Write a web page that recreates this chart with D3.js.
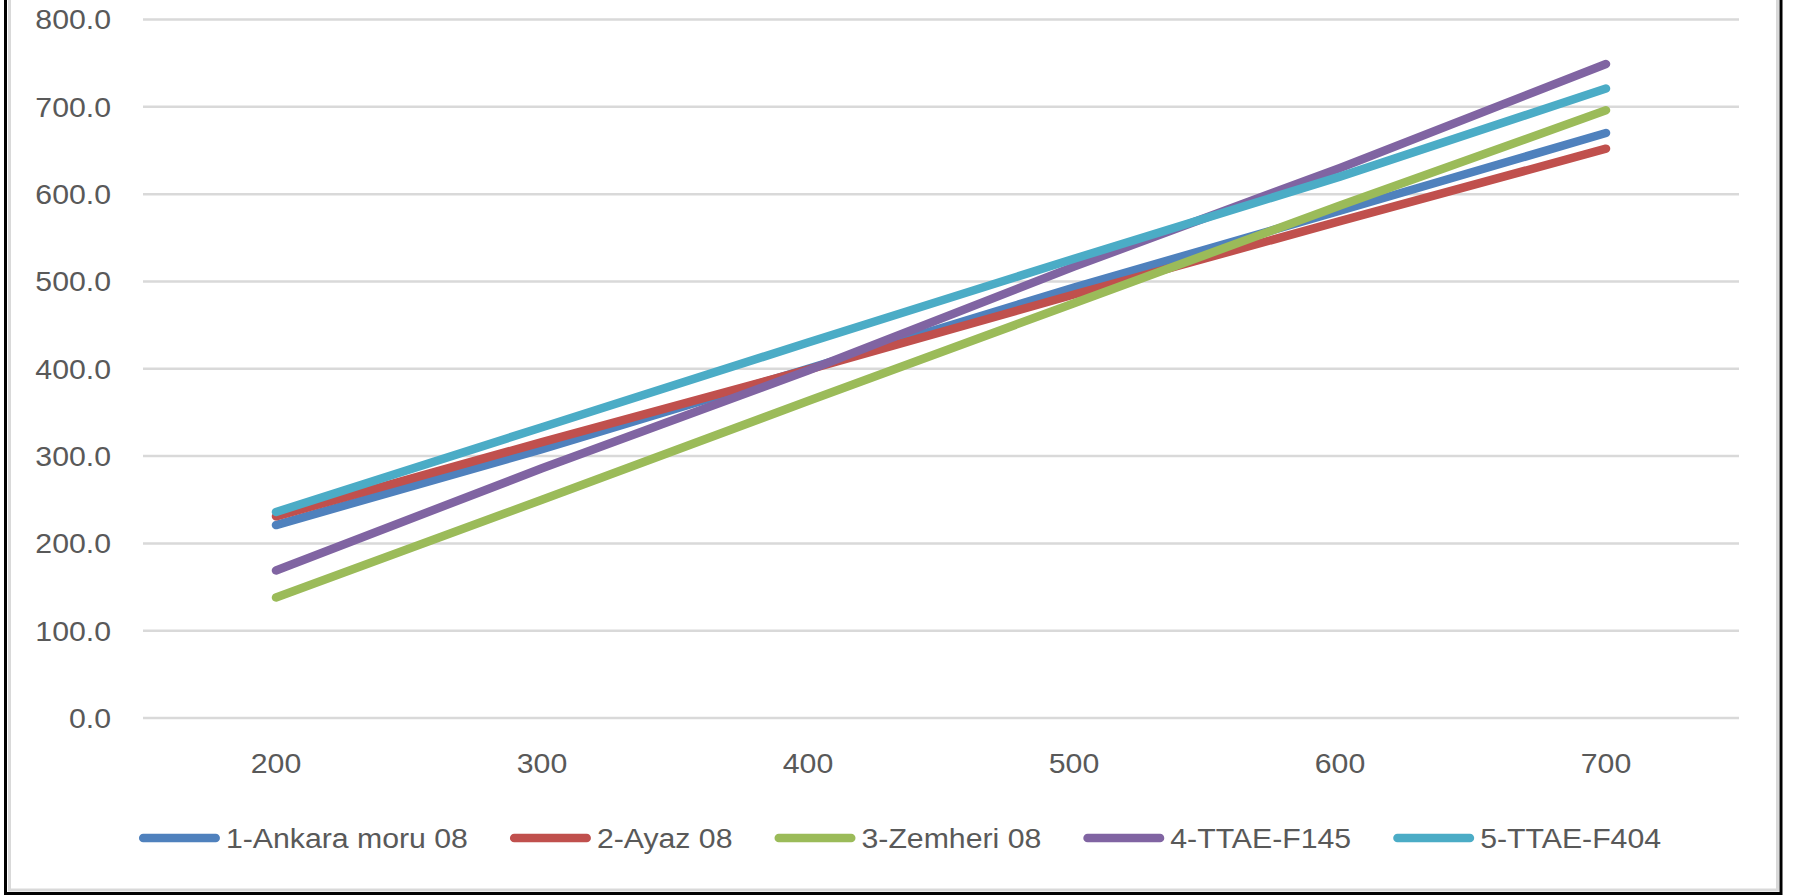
<!DOCTYPE html>
<html>
<head>
<meta charset="utf-8">
<script src="https://cdn.jsdelivr.net/npm/d3@7"></script>
<style>
  html, body { margin: 0; padding: 0; background: #fff; }
  svg { display: block; }
</style>
</head>
<body>
<svg id="chart" width="1796" height="896"></svg>
<script>
// ---- data ----
const categories = ["200", "300", "400", "500", "600", "700"];
const seriesNames = ["1-Ankara moru 08", "2-Ayaz 08", "3-Zemheri 08", "4-TTAE-F145", "5-TTAE-F404"];
const ankaraMoru = [221, 308, 400, 493, 581, 670];
const ayaz       = [231, 316, 399, 485, 569, 652];
const zemheri    = [138, 250, 363, 475, 587, 696];
const ttaeF145   = [169, 286, 398, 517, 630, 749];
const ttaeF404   = [236, 333, 430, 526, 620, 721];
const yTicks = [0, 100, 200, 300, 400, 500, 600, 700, 800];
const colors = ["#4F81BD", "#C0504D", "#9BBB59", "#8064A2", "#4BACC6"];

const seriesValues = [ankaraMoru, ayaz, zemheri, ttaeF145, ttaeF404];
const series = seriesNames.map((name, i) => ({ name, color: colors[i], values: seriesValues[i] }));

// ---- layout ----
const plot = { left: 143, right: 1739, top: 19.5, bottom: 718 };
const textColor = "#595959";
const font = "'Liberation Sans', Arial, sans-serif";
const fontSize = 27.5;
const stretch = 1.1;
const lineW = 8.5;

const svg = d3.select("#chart");

// frame
svg.append("rect").attr("x", 9.5).attr("y", -10).attr("width", 1768).attr("height", 900)
  .attr("fill", "none").attr("stroke", "#d9d9d9").attr("stroke-width", 3);
svg.append("rect").attr("x", 5.5).attr("y", -10).attr("width", 1775.5).attr("height", 903.5)
  .attr("fill", "none").attr("stroke", "#000").attr("stroke-width", 3);

const x = d3.scalePoint().domain(categories).range([plot.left, plot.right]).padding(0.5);
const y = d3.scaleLinear().domain([0, 800]).range([plot.bottom, plot.top]);

// gridlines
svg.append("g").selectAll("line").data(yTicks).join("line")
  .attr("x1", plot.left).attr("x2", plot.right)
  .attr("y1", d => y(d)).attr("y2", d => y(d))
  .attr("stroke", "#d9d9d9").attr("stroke-width", 2.5);

// y labels
svg.append("g").selectAll("text").data(yTicks).join("text")
  .attr("transform", d => `translate(111,${y(d)}) scale(${stretch},1)`)
  .attr("text-anchor", "end").attr("dy", "0.36em")
  .attr("font-family", font).attr("font-size", fontSize).attr("fill", textColor)
  .text(d => d3.format(".1f")(d));

// x labels
svg.append("g").selectAll("text").data(categories).join("text")
  .attr("transform", d => `translate(${x(d)},763) scale(${stretch},1)`)
  .attr("text-anchor", "middle").attr("dy", "0.36em")
  .attr("font-family", font).attr("font-size", fontSize).attr("fill", textColor)
  .text(d => d);

// lines
const line = d3.line().x((d, i) => x(categories[i])).y(d => y(d));
svg.append("g").selectAll("path").data(series).join("path")
  .attr("d", d => line(d.values))
  .attr("fill", "none").attr("stroke", d => d.color)
  .attr("stroke-width", lineW).attr("stroke-linecap", "round").attr("stroke-linejoin", "round");

// legend
const legendY = 838;
const swatchW = 81, swatchGap = 6, itemGap = 42;
const items = svg.append("g").selectAll("g").data(series).join("g");
items.append("line").attr("x1", lineW / 2).attr("x2", swatchW - lineW / 2).attr("y1", 0).attr("y2", 0)
  .attr("stroke", d => d.color).attr("stroke-width", lineW).attr("stroke-linecap", "round");
items.append("text")
  .attr("transform", `translate(${swatchW + swatchGap},0) scale(${stretch},1)`)
  .attr("dy", "0.36em")
  .attr("font-family", font).attr("font-size", fontSize).attr("fill", textColor)
  .text(d => d.name);
const widths = [];
items.each(function() {
  widths.push(swatchW + swatchGap + d3.select(this).select("text").node().getComputedTextLength() * stretch);
});
const total = d3.sum(widths) + itemGap * (widths.length - 1);
let cx = 900 - total / 2;
items.attr("transform", (d, i) => {
  const t = `translate(${cx},${legendY})`;
  cx += widths[i] + itemGap;
  return t;
});
</script>
</body>
</html>
